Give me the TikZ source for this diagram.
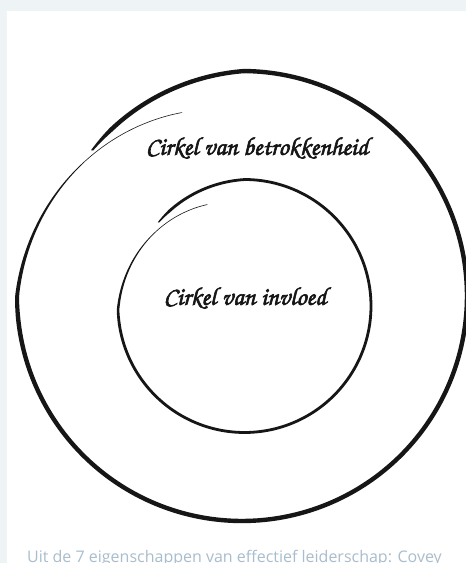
\documentclass[tikz,border=0pt]{standalone}
\usepackage[T1]{fontenc}
\usepackage{fontspec}
\setsansfont{Open Sans}
\definecolor{panelgrey}{HTML}{EEF3F6}
\definecolor{captiongrey}{HTML}{A9BDCC}
\definecolor{ink}{HTML}{161616}
\newcommand\brush[1]{\special{pdf:literal direct 2 Tr 0.6 w}#1\special{pdf:literal direct 0 Tr}}
\tikzset{
  script/.style={font=\fontencoding{T1}\fontfamily{pzc}\fontseries{mb}\fontshape{it}\fontsize{25.5}{29}\selectfont, text=ink},
  caption/.style={font=\sffamily\fontsize{16}{19}\selectfont, text=captiongrey, inner sep=0pt},
  declare function={
    ringr(\t,\R,\a,\b)=\R-\a*max(0,1-\t/0.12)-\b*max(0,(\t-0.814)/0.186);
    ringw(\t,\w)=min(\w*min(1,0.4+30*\t),\w-(\w-0.6)*min(1,max(0,(\t-0.8)/0.12)));
  }
}
\newcommand\handring[7]{%
  \fill[ink] plot[domain=0:1,samples=300,variable=\t]
    ({#1+(ringr(\t,#3,#4,#5)+ringw(\t,#6)/2)*cos(136-#7*\t)},{#2+(ringr(\t,#3,#4,#5)+ringw(\t,#6)/2)*sin(136-#7*\t)})
    -- plot[domain=1:0,samples=300,variable=\t]
    ({#1+(ringr(\t,#3,#4,#5)-ringw(\t,#6)/2)*cos(136-#7*\t)},{#2+(ringr(\t,#3,#4,#5)-ringw(\t,#6)/2)*sin(136-#7*\t)})
    -- cycle;}
\begin{document}
\begin{tikzpicture}[x=1pt,y=1pt]
  \useasboundingbox (0,0) rectangle (466,563);
  \fill[panelgrey] (0,0) rectangle (466,563);
  \fill[white] (7,0) rectangle (466,552);
  \handring{242}{267}{225}{16}{32}{4.4}{388}
  \handring{244.5}{257}{126.5}{6.5}{18.5}{2.8}{386}
  \node[script] (betrokkenheid) at (257,415) {\brush{Cirkel van betrokkenheid}};
  \node[script] (invloed) at (245,265) {\brush{Cirkel van invloed}};
  \node[caption, anchor=base west] (bron) at (27,0.5) {Uit de 7 eigenschappen van effectief leiderschap: Covey};
\end{tikzpicture}
\end{document}
